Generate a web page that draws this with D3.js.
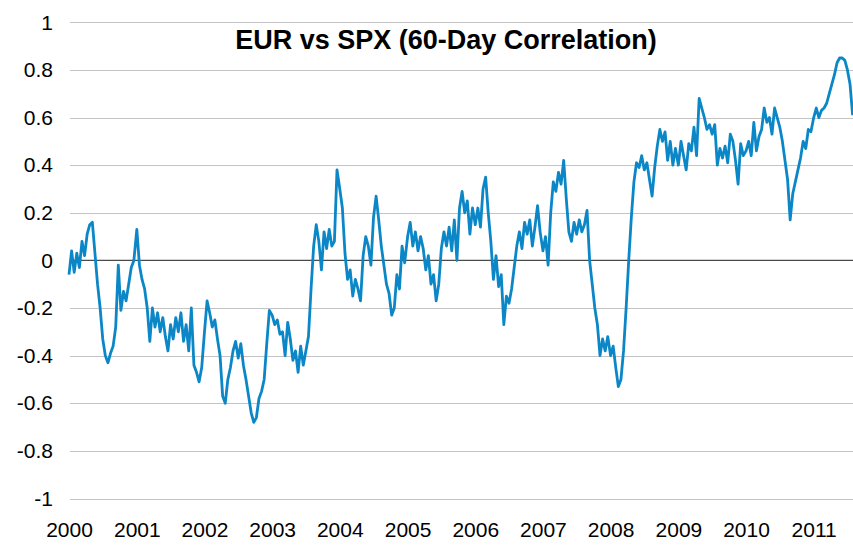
<!DOCTYPE html>
<html>
<head>
<meta charset="utf-8">
<script src="https://cdn.jsdelivr.net/npm/d3@7"></script>
<style>
  body { margin: 0; background: #fff; }
  text { font-family: "Liberation Sans", Arial, sans-serif; fill: #000; }
</style>
</head>
<body>
<script>
var years = [2000, 2001, 2002, 2003, 2004, 2005, 2006, 2007, 2008, 2009, 2010, 2011];

var corr2000 = [-0.06, 0.04, -0.05, 0.03, -0.03, 0.08, 0.02, 0.11, 0.15, 0.16, 0.03, -0.1, -0.2,
  -0.33, -0.4, -0.43, -0.39, -0.36, -0.28, -0.02, -0.21, -0.13, -0.17, -0.1, -0.03, 0.0];
var corr2001 = [0.13, -0.02, -0.08, -0.12, -0.2, -0.34, -0.2, -0.28, -0.22, -0.3, -0.24, -0.32, -0.38,
  -0.27, -0.33, -0.24, -0.3, -0.22, -0.34, -0.27, -0.38, -0.2, -0.44, -0.47, -0.51, -0.45];
var corr2002 = [-0.3, -0.17, -0.22, -0.28, -0.25, -0.33, -0.4, -0.57, -0.6, -0.5, -0.45, -0.38, -0.34,
  -0.41, -0.35, -0.44, -0.5, -0.57, -0.64, -0.68, -0.66, -0.58, -0.55, -0.5, -0.35, -0.21];
var corr2003 = [-0.23, -0.27, -0.25, -0.31, -0.3, -0.4, -0.26, -0.33, -0.42, -0.38, -0.47, -0.36, -0.44,
  -0.38, -0.32, -0.12, 0.06, 0.15, 0.08, -0.04, 0.12, 0.05, 0.13, 0.06, 0.08, 0.38];
var corr2004 = [0.3, 0.22, 0.03, -0.08, -0.04, -0.15, -0.08, -0.12, -0.17, 0.02, 0.1, 0.06, -0.02,
  0.18, 0.27, 0.17, 0.06, -0.02, -0.1, -0.14, -0.23, -0.2, -0.06, -0.12, 0.06, -0.01];
var corr2005 = [0.1, 0.16, 0.06, 0.12, 0.04, 0.1, 0.05, -0.04, 0.02, -0.1, -0.06, -0.17, -0.1,
  0.05, 0.12, 0.06, 0.14, 0.04, 0.17, 0.0, 0.22, 0.29, 0.2, 0.25, 0.11, 0.22];
var corr2006 = [0.15, 0.22, 0.14, 0.3, 0.35, 0.2, 0.08, -0.08, 0.02, -0.11, -0.06, -0.27, -0.15,
  -0.18, -0.12, -0.03, 0.06, 0.12, 0.05, 0.16, 0.11, 0.17, 0.06, 0.14, 0.23, 0.12];
var corr2007 = [0.04, 0.1, -0.02, 0.2, 0.33, 0.29, 0.37, 0.32, 0.42, 0.26, 0.12, 0.08, 0.16,
  0.11, 0.17, 0.12, 0.15, 0.21, 0.0, -0.1, -0.2, -0.27, -0.4, -0.33, -0.38, -0.32];
var corr2008 = [-0.4, -0.36, -0.45, -0.53, -0.5, -0.38, -0.2, 0.0, 0.18, 0.33, 0.41, 0.39, 0.44,
  0.38, 0.41, 0.34, 0.27, 0.39, 0.48, 0.55, 0.5, 0.54, 0.42, 0.5, 0.4, 0.47];
var corr2009 = [0.4, 0.5, 0.44, 0.38, 0.49, 0.46, 0.56, 0.44, 0.68, 0.64, 0.6, 0.55, 0.57,
  0.53, 0.57, 0.4, 0.47, 0.43, 0.48, 0.41, 0.53, 0.5, 0.42, 0.32, 0.49, 0.44];
var corr2010 = [0.46, 0.5, 0.44, 0.58, 0.46, 0.52, 0.55, 0.64, 0.58, 0.6, 0.53, 0.64, 0.6,
  0.56, 0.5, 0.42, 0.34, 0.17, 0.28, 0.33, 0.38, 0.43, 0.5, 0.47, 0.55, 0.54];
var corr2011 = [0.6, 0.64, 0.6, 0.63, 0.64, 0.66, 0.7, 0.74, 0.78, 0.83, 0.85, 0.85, 0.84, 0.8, 0.74, 0.61];

var corrByYear = [corr2000, corr2001, corr2002, corr2003, corr2004, corr2005,
  corr2006, corr2007, corr2008, corr2009, corr2010, corr2011];

var yTicks = [-1, -0.8, -0.6, -0.4, -0.2, 0, 0.2, 0.4, 0.6, 0.8, 1];
var title = "EUR vs SPX (60-Day Correlation)";

var width = 853,
  height = 548;

var data = [];
corrByYear.forEach(function (vals, i) {
  vals.forEach(function (v, k) {
    data.push({ date: new Date(years[i], 0, 1 + k * 14), value: v });
  });
});

var x = d3.scaleTime()
  .domain([new Date(2000, 0, 1), new Date(2011, 0, 1)])
  .range([69, 813.7]);

var y = d3.scaleLinear()
  .domain([-1, 1])
  .range([498.5, 22.3]);

var svg = d3.select("body").append("svg")
  .attr("width", width)
  .attr("height", height);

// gridlines
svg.append("g")
  .selectAll("line")
  .data(yTicks.filter(function (d) { return d !== 0; }))
  .enter().append("line")
  .attr("x1", 70)
  .attr("x2", width)
  .attr("y1", function (d) { return Math.round(y(d)) + 0.5; })
  .attr("y2", function (d) { return Math.round(y(d)) + 0.5; })
  .attr("stroke", "#c4c4c4")
  .attr("stroke-width", 1.2);

// y labels (plain hyphen for negatives, like the original)
var yAxis = d3.axisLeft(y)
  .tickValues(yTicks)
  .tickSize(0)
  .tickPadding(0)
  .tickFormat(function (d) { return String(+d.toFixed(1)); });

svg.append("g")
  .attr("transform", "translate(53,0)")
  .call(yAxis)
  .call(function (g) { g.select(".domain").remove(); })
  .selectAll("text")
  .attr("font-size", 21)
  .attr("font-family", "Liberation Sans, Arial, sans-serif")
  .attr("fill", "#000");

// x labels
var xAxis = d3.axisBottom(x)
  .ticks(d3.timeYear.every(1))
  .tickSize(0)
  .tickPadding(0)
  .tickFormat(d3.timeFormat("%Y"));

svg.append("g")
  .attr("transform", "translate(0,522)")
  .call(xAxis)
  .call(function (g) { g.select(".domain").remove(); })
  .selectAll("text")
  .attr("font-size", 21)
  .attr("font-family", "Liberation Sans, Arial, sans-serif")
  .attr("fill", "#000");

// zero line
svg.append("line")
  .attr("x1", 70)
  .attr("x2", width)
  .attr("y1", y(0))
  .attr("y2", y(0))
  .attr("stroke", "#4a4a4a")
  .attr("stroke-width", 1.4);

var line = d3.line()
  .x(function (d) { return x(d.date); })
  .y(function (d) { return y(d.value); });

svg.append("path")
  .datum(data)
  .attr("d", line)
  .attr("fill", "none")
  .attr("stroke", "#0b87c7")
  .attr("stroke-width", 2.8)
  .attr("stroke-linejoin", "round");

svg.append("text")
  .attr("x", 446)
  .attr("y", 49)
  .attr("text-anchor", "middle")
  .attr("font-size", 27)
  .attr("font-weight", "bold")
  .text(title);
</script>
</body>
</html>
